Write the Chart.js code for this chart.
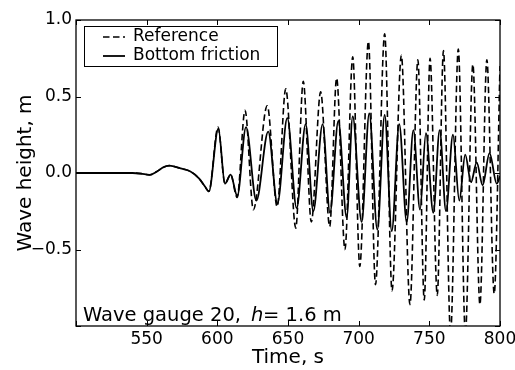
<!DOCTYPE html>
<html><head><meta charset="utf-8">
<script src="https://cdn.jsdelivr.net/npm/chart.js@4.4.0/dist/chart.umd.min.js"></script>
<style>html,body{margin:0;padding:0;background:#fff;}canvas{display:block;}</style>
</head><body>
<canvas id="c" width="515" height="370"></canvas>
<script>
// ---- data ----
const refTime = [500,520,540,546,552,557,562,566,574,581,587,591,594,600.5,605.4,609.4,614,619.6,625.5,635.3,642.3,648.4,655.5,660.8,666.5,673.1,679.5,684.4,690.3,695.8,700.8,706.9,711.9,718.4,723.6,730.2,736.3,741.9,746.4,750.5,755.6,760.0,765.0,770.5,775.5,780.8,785.8,790.7,795.9,800];
const refHeight = [0,0,0,-0.004,-0.012,0.008,0.038,0.048,0.03,0.01,-0.035,-0.085,-0.12,0.30,-0.07,-0.01,-0.16,0.41,-0.24,0.44,-0.22,0.55,-0.36,0.60,-0.32,0.53,-0.35,0.62,-0.50,0.76,-0.61,0.86,-0.73,0.91,-0.77,0.77,-0.86,0.74,-0.83,0.75,-0.80,0.80,-1.05,0.81,-1.05,0.71,-0.86,0.74,-0.79,0.70];
const bfTime = [500,520,540,546,552,557,562,566,574,581,587,591,594,600.7,605.4,609.4,614.1,620.3,627.6,636,642.5,649.5,656.1,662.5,667.9,674.5,679.7,685.6,691.5,695.8,702.1,707.5,713.2,718.4,723.4,728.7,734.0,738.7,743.4,747.6,752.8,757.3,761.8,766.7,771.2,775.4,779.5,783.5,787.7,792.6,797.7,800];
const bfHeight = [0,0,0,-0.004,-0.012,0.008,0.038,0.048,0.03,0.01,-0.035,-0.085,-0.12,0.29,-0.07,-0.01,-0.15,0.30,-0.18,0.27,-0.20,0.36,-0.23,0.32,-0.25,0.32,-0.26,0.34,-0.29,0.37,-0.32,0.39,-0.37,0.38,-0.38,0.32,-0.32,0.28,-0.24,0.26,-0.26,0.28,-0.25,0.25,-0.18,0.12,-0.06,0.07,-0.08,0.13,-0.07,-0.02];
const seriesNames = ['Reference','Bottom friction'];
const xRange = [500, 800];
const yRange = [-1, 1];
const xStep = 50;
const yStep = 0.5;
const xTitle = 'Time, s';
const yTitle = 'Wave height, m';
const noteParts = ['Wave gauge 20,', 'h', '= 1.6 m'];

const FONT = 'DejaVu Sans';
const pts = (t, h) => t.map((x, i) => ({x: x, y: h[i]}));

const decor = {
  id: 'decor',
  afterDatasetsDraw(chart) {
    const {ctx, chartArea: a, scales: {x, y}} = chart;
    ctx.save();
    ctx.strokeStyle = '#000';
    ctx.lineWidth = 1;
    ctx.beginPath();
    x.ticks.forEach(t => {
      const p = Math.round(x.getPixelForValue(t.value)) + 0.5;
      ctx.moveTo(p, a.bottom); ctx.lineTo(p, a.bottom - 5);
      ctx.moveTo(p, a.top); ctx.lineTo(p, a.top + 5);
    });
    y.ticks.forEach(t => {
      const p = Math.round(y.getPixelForValue(t.value)) + 0.5;
      ctx.moveTo(a.left, p); ctx.lineTo(a.left + 5, p);
      ctx.moveTo(a.right, p); ctx.lineTo(a.right - 5, p);
    });
    ctx.stroke();
    ctx.lineWidth = 1.3;
    ctx.strokeRect(a.left, a.top, a.right - a.left, a.bottom - a.top);

    // legend
    const lx = a.left + 8, ly = a.top + 6;
    ctx.lineWidth = 1;
    ctx.strokeRect(lx + 0.5, ly + 0.5, 193, 40);
    ctx.font = '17px "' + FONT + '"';
    ctx.fillStyle = '#000';
    ctx.textBaseline = 'middle';
    chart.data.datasets.forEach((ds, i) => {
      const yy = ly + 11 + i * 19;
      ctx.beginPath();
      ctx.setLineDash(ds.borderDash || []);
      ctx.lineWidth = ds.borderWidth;
      ctx.moveTo(lx + 19, yy); ctx.lineTo(lx + 41, yy);
      ctx.stroke();
      ctx.setLineDash([]);
      ctx.fillText(ds.label, lx + 49, yy);
    });

    // note
    ctx.textBaseline = 'alphabetic';
    const by = a.bottom - 5;
    ctx.font = '19.5px "' + FONT + '"';
    ctx.fillText(noteParts[0], a.left + 7, by);
    ctx.font = 'italic 19.5px "' + FONT + '"';
    ctx.fillText(noteParts[1], a.left + 175, by);
    ctx.font = '19.5px "' + FONT + '"';
    ctx.fillText(noteParts[2], a.left + 187, by);
    ctx.restore();
  }
};

new Chart(document.getElementById('c'), {
  type: 'line',
  data: {
    datasets: [
      {label: seriesNames[0], data: pts(refTime, refHeight), borderColor: '#000', borderWidth: 1.6, borderDash: [6.5, 3.5], pointRadius: 0, cubicInterpolationMode: 'monotone', fill: false},
      {label: seriesNames[1], data: pts(bfTime, bfHeight), borderColor: '#000', borderWidth: 1.8, pointRadius: 0, cubicInterpolationMode: 'monotone', fill: false}
    ]
  },
  options: {
    responsive: false,
    devicePixelRatio: 1,
    animation: false,
    events: [],
    layout: {padding: {left: 0, top: 20, right: 15, bottom: 0}},
    plugins: {legend: {display: false}, tooltip: {enabled: false}},
    scales: {
      x: {
        type: 'linear', min: xRange[0], max: xRange[1],
        grid: {display: false, drawTicks: false},
        border: {display: false},
        ticks: {stepSize: xStep, padding: 3, color: '#000', font: {family: FONT, size: 17},
          callback: v => v === xRange[0] ? '' : String(v)},
        title: {display: true, text: xTitle, color: '#000', font: {family: FONT, size: 20}, padding: {top: 0, bottom: 0}},
        afterFit: s => { s.height = 44; s.paddingLeft = 0; s.paddingRight = 0; }
      },
      y: {
        type: 'linear', min: yRange[0], max: yRange[1],
        grid: {display: false, drawTicks: false},
        border: {display: false},
        ticks: {stepSize: yStep, padding: 4, color: '#000', font: {family: FONT, size: 17},
          callback: v => v === yRange[0] ? '' : (v < 0 ? '\u2212' : '') + Math.abs(v).toFixed(1)},
        title: {display: true, text: yTitle, color: '#000', font: {family: FONT, size: 20}, padding: {top: 14, bottom: 0}},
        afterFit: s => { s.width = 76; s.paddingTop = 0; s.paddingBottom = 0; }
      }
    }
  },
  plugins: [decor]
});
</script>
</body></html>
